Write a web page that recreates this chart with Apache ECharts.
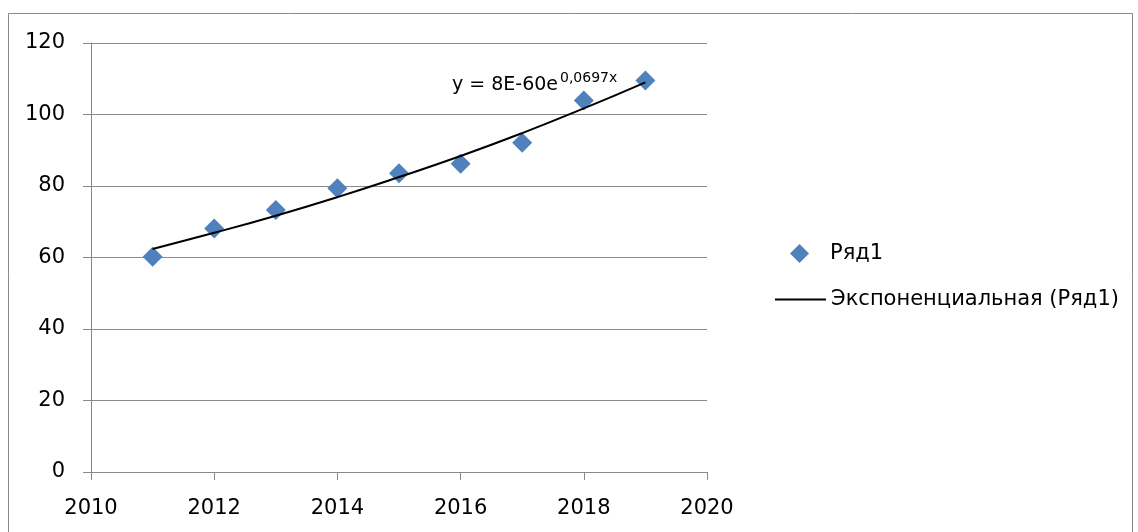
<!DOCTYPE html>
<html>
<head>
<meta charset="utf-8">
<script src="https://cdn.jsdelivr.net/npm/echarts@6/dist/echarts.min.js"></script>
<style>
html,body{margin:0;padding:0;background:#fff;}
#chart{width:1138px;height:532px;}
</style>
</head>
<body>
<div id="chart"></div>
<script>
// Data
var years = [2011, 2012, 2013, 2014, 2015, 2016, 2017, 2018, 2019];
var values = [60.2, 68.1, 73.3, 79.4, 83.6, 86.2, 92.1, 103.9, 109.5];
// Exponential trendline values read at each year
var trendValues = [62.4, 66.9, 71.7, 76.9, 82.5, 88.4, 94.8, 101.7, 109.0];
var seriesName = 'Ряд1';
var trendName = 'Экспоненциальная (Ряд1)';
var equationMain = 'y = 8E-60e';
var equationExp = '0,0697x';

var FONT = 'DejaVu Sans';
var GRAY = '#898989';

var chart = echarts.init(document.getElementById('chart'), null, {renderer: 'canvas'});
chart.setOption({
  animation: false,
  backgroundColor: '#ffffff',
  textStyle: {fontFamily: FONT},
  grid: {left: 91, right: 431, top: 43, bottom: 60, containLabel: false},
  xAxis: {
    type: 'value', min: 2010, max: 2020, interval: 2,
    axisLine: {show: true, lineStyle: {color: GRAY, width: 1}},
    axisTick: {show: true, length: 8, lineStyle: {color: GRAY}},
    axisLabel: {color: '#000', fontSize: 21, margin: 26, fontFamily: FONT,
      formatter: function (v) { return String(v); }},
    splitLine: {show: false}
  },
  yAxis: {
    type: 'value', min: 0, max: 120, interval: 20,
    axisLine: {show: true, lineStyle: {color: GRAY, width: 1}},
    axisTick: {show: true, length: 8, lineStyle: {color: GRAY}},
    axisLabel: {color: '#000', fontSize: 21, margin: 26, fontFamily: FONT},
    splitLine: {show: true, lineStyle: {color: GRAY, width: 1}}
  },
  legend: [
    {
      orient: 'vertical', left: 790, top: 243, padding: 0,
      itemWidth: 19, itemHeight: 19, icon: 'diamond',
      itemStyle: {color: '#4F81BD', opacity: 1},
      textStyle: {color: '#000', fontSize: 21, fontFamily: FONT, padding: [0, 0, 0, 16]},
      data: [seriesName]
    },
    {
      orient: 'vertical', left: 775, top: 289, padding: 0,
      itemWidth: 51, itemHeight: 2, icon: 'rect',
      textStyle: {color: '#000', fontSize: 21, fontFamily: FONT},
      data: [trendName]
    }
  ],
  graphic: [
    {type: 'rect', shape: {x: 8.5, y: 13.5, width: 1124, height: 540}, style: {fill: 'none', stroke: GRAY, lineWidth: 1}, silent: true, z: -10},
    {type: 'text', left: 452, top: 76, style: {text: equationMain, font: '19px "' + FONT + '"', fill: '#000'}},
    {type: 'text', left: 560, top: 71, style: {text: equationExp, font: '14px "' + FONT + '"', fill: '#000'}}
  ],
  series: [
    {
      name: trendName, type: 'line', smooth: true, symbol: 'none',
      data: years.map(function (y, i) { return [y, trendValues[i]]; }),
      lineStyle: {color: '#000', width: 2}, itemStyle: {color: '#000'}, z: 3
    },
    {
      name: seriesName, type: 'scatter', symbol: 'diamond', symbolSize: 20,
      data: years.map(function (y, i) { return [y, values[i]]; }),
      itemStyle: {color: '#4F81BD', opacity: 1}, z: 2
    }
  ]
});
</script>
</body>
</html>
